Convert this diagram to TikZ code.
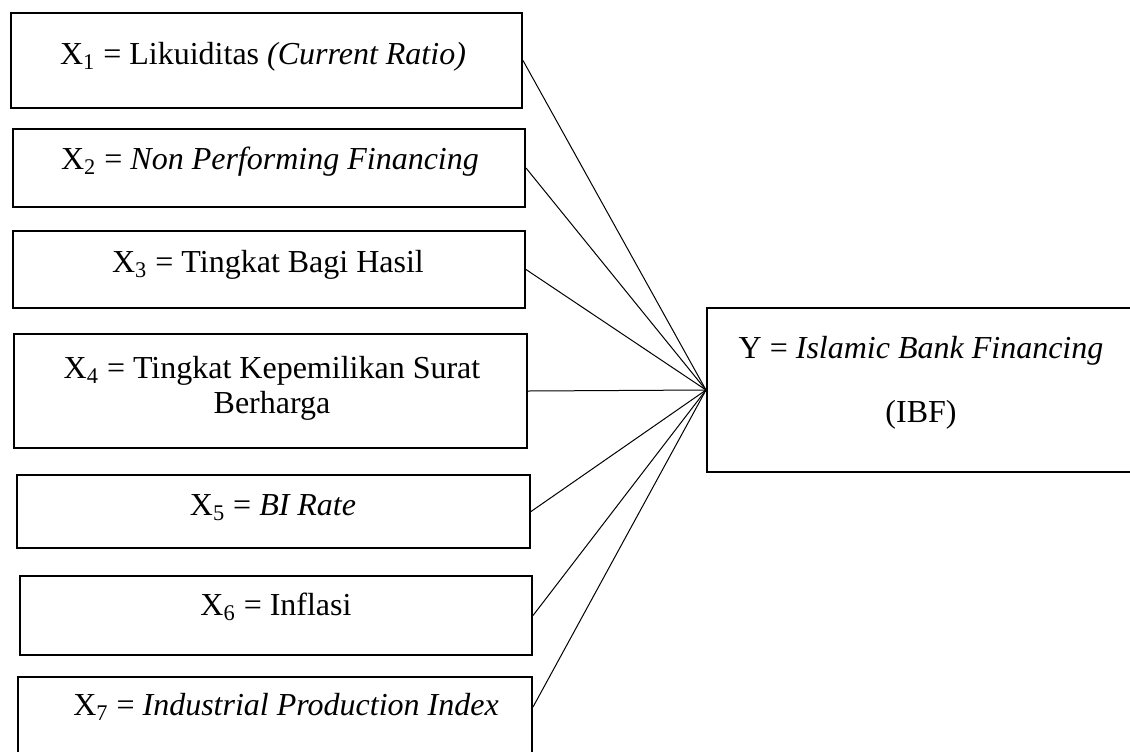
\documentclass[tikz,border=0pt]{standalone}
\usepackage{fontspec}
\setmainfont{Liberation Serif}
\usetikzlibrary{fit}
\begin{document}
\begin{tikzpicture}[x=0.5pt,y=-0.5pt,
  vbox/.style={draw=black, line width=1pt, inner sep=0pt},
  lbl/.style={anchor=base, inner sep=0pt, font=\fontsize{16}{17.5}\selectfont, align=center},
  link/.style={draw=black, line width=0.5pt}]
\useasboundingbox (0,0) rectangle (1130,751);
% boxes
\node[vbox, fit={(11,13) (522,108)}] (b1) {};
\node[vbox, fit={(13,129) (525,207)}] (b2) {};
\node[vbox, fit={(13,231) (525,308)}] (b3) {};
\node[vbox, fit={(14,334) (527,448)}] (b4) {};
\node[vbox, fit={(17,475) (530,548)}] (b5) {};
\node[vbox, fit={(20,576) (532,655)}] (b6) {};
\node[vbox, fit={(18,677) (532,754)}] (b7) {};
\node[vbox, fit={(707,308) (1136,472)}] (y) {};
% labels
\node[lbl] (t1) at (263,64) {X\textsubscript{1} = Likuiditas \textit{(Current Ratio)}};
\node[lbl] (t2) at (270,169) {X\textsubscript{2} = \textit{Non Performing Financing}};
\node[lbl] (t3) at (268,272) {X\textsubscript{3} = Tingkat Bagi Hasil};
\node[lbl] (t4) at (272,413) {X\textsubscript{4} = Tingkat Kepemilikan Surat\\Berharga};
\node[lbl] (t5) at (273,515) {X\textsubscript{5} = \textit{BI Rate}};
\node[lbl] (t6) at (276,615) {X\textsubscript{6} = Inflasi};
\node[lbl] (t7) at (286,715) {X\textsubscript{7} = \textit{Industrial Production Index}};
\node[lbl] (ty) at (921,358) {Y = \textit{Islamic Bank Financing}};
\node[lbl] (tibf) at (921,422) {(IBF)};
% connectors
\draw[link] (b1.east) -- (y.west);
\draw[link] (b2.east) -- (y.west);
\draw[link] (b3.east) -- (y.west);
\draw[link] (b4.east) -- (y.west);
\draw[link] (b5.east) -- (y.west);
\draw[link] (b6.east) -- (y.west);
\draw[link] ([yshift=4.25pt]b7.east) -- (y.west);
\end{tikzpicture}
\end{document}
